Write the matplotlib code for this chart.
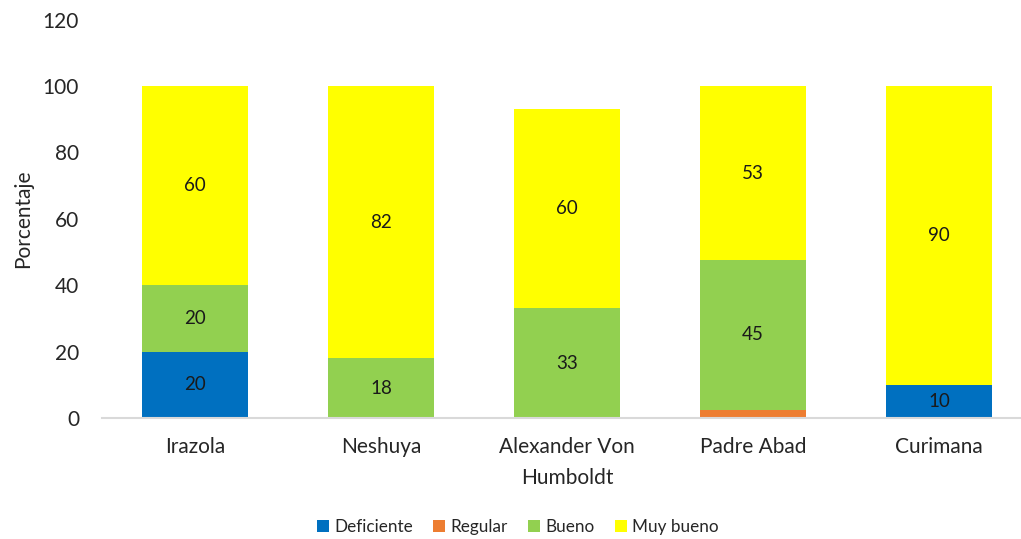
import matplotlib
matplotlib.use('Agg')
import matplotlib.pyplot as plt
import numpy as np

plt.rcParams['font.family'] = ['Lato', 'DejaVu Sans']

categorias = ['Irazola', 'Neshuya', 'Alexander Von\nHumboldt', 'Padre Abad', 'Curimana']
deficiente = [20, 0, 0, 0, 10]
regular = [0, 0, 0, 2.5, 0]
bueno = [20, 18, 33, 45, 0]
muy_bueno = [60, 82, 60, 52.5, 90]

etiquetas_def = ['20', '', '', '', '10']
etiquetas_bue = ['20', '18', '33', '45', '']
etiquetas_muy = ['60', '82', '60', '53', '90']

colores = ['#0070C0', '#ED7D31', '#92D050', '#FFFF00']
nombres = ['Deficiente', 'Regular', 'Bueno', 'Muy bueno']

fig = plt.figure(figsize=(10.21, 5.39), dpi=100)
ax = fig.add_axes([102/1021, 1 - 418/539, 930/1021, 398.4/539])

x = np.arange(len(categorias))
w = 0.57
series = [deficiente, regular, bueno, muy_bueno]
bottom = np.zeros(len(categorias))
barras = []
for vals, col, nom in zip(series, colores, nombres):
    b = ax.bar(x, vals, w, bottom=bottom, color=col, label=nom, zorder=2)
    barras.append(b)
    bottom = bottom + np.array(vals)

for b, labs in zip([barras[0], barras[2], barras[3]], [etiquetas_def, etiquetas_bue, etiquetas_muy]):
    ax.bar_label(b, labels=labs, label_type='center', fontsize=13.5, color='#1a1a1a')

ax.set_xlim(-0.5, len(categorias) - 0.5)
ax.set_ylim(0, 120)
ax.set_yticks(range(0, 121, 20))
ax.set_xticks(x)
ax.set_xticklabels(categorias, fontsize=15, color='#262626', linespacing=1.65)
ax.tick_params(axis='y', labelsize=15, colors='#262626', length=0, pad=16.5)
ax.tick_params(axis='x', length=0, pad=14)
for s in ['top', 'right', 'left']:
    ax.spines[s].set_visible(False)
ax.spines['bottom'].set_color('#D9D9D9')
ax.spines['bottom'].set_linewidth(1.5)
ax.spines['bottom'].set_zorder(3)

ax.set_ylabel('Porcentaje', fontsize=15, color='#262626')
ax.yaxis.set_label_coords(-69/930, 0.5)

fig.legend(loc='center', bbox_to_anchor=(518/1021, 1 - 527/539), ncol=4, frameon=False,
           fontsize=12.3, handlelength=0.7, handleheight=0.7, handletextpad=0.3,
           columnspacing=1.2, labelcolor='#262626')

fig.savefig('out.png', dpi=100)
